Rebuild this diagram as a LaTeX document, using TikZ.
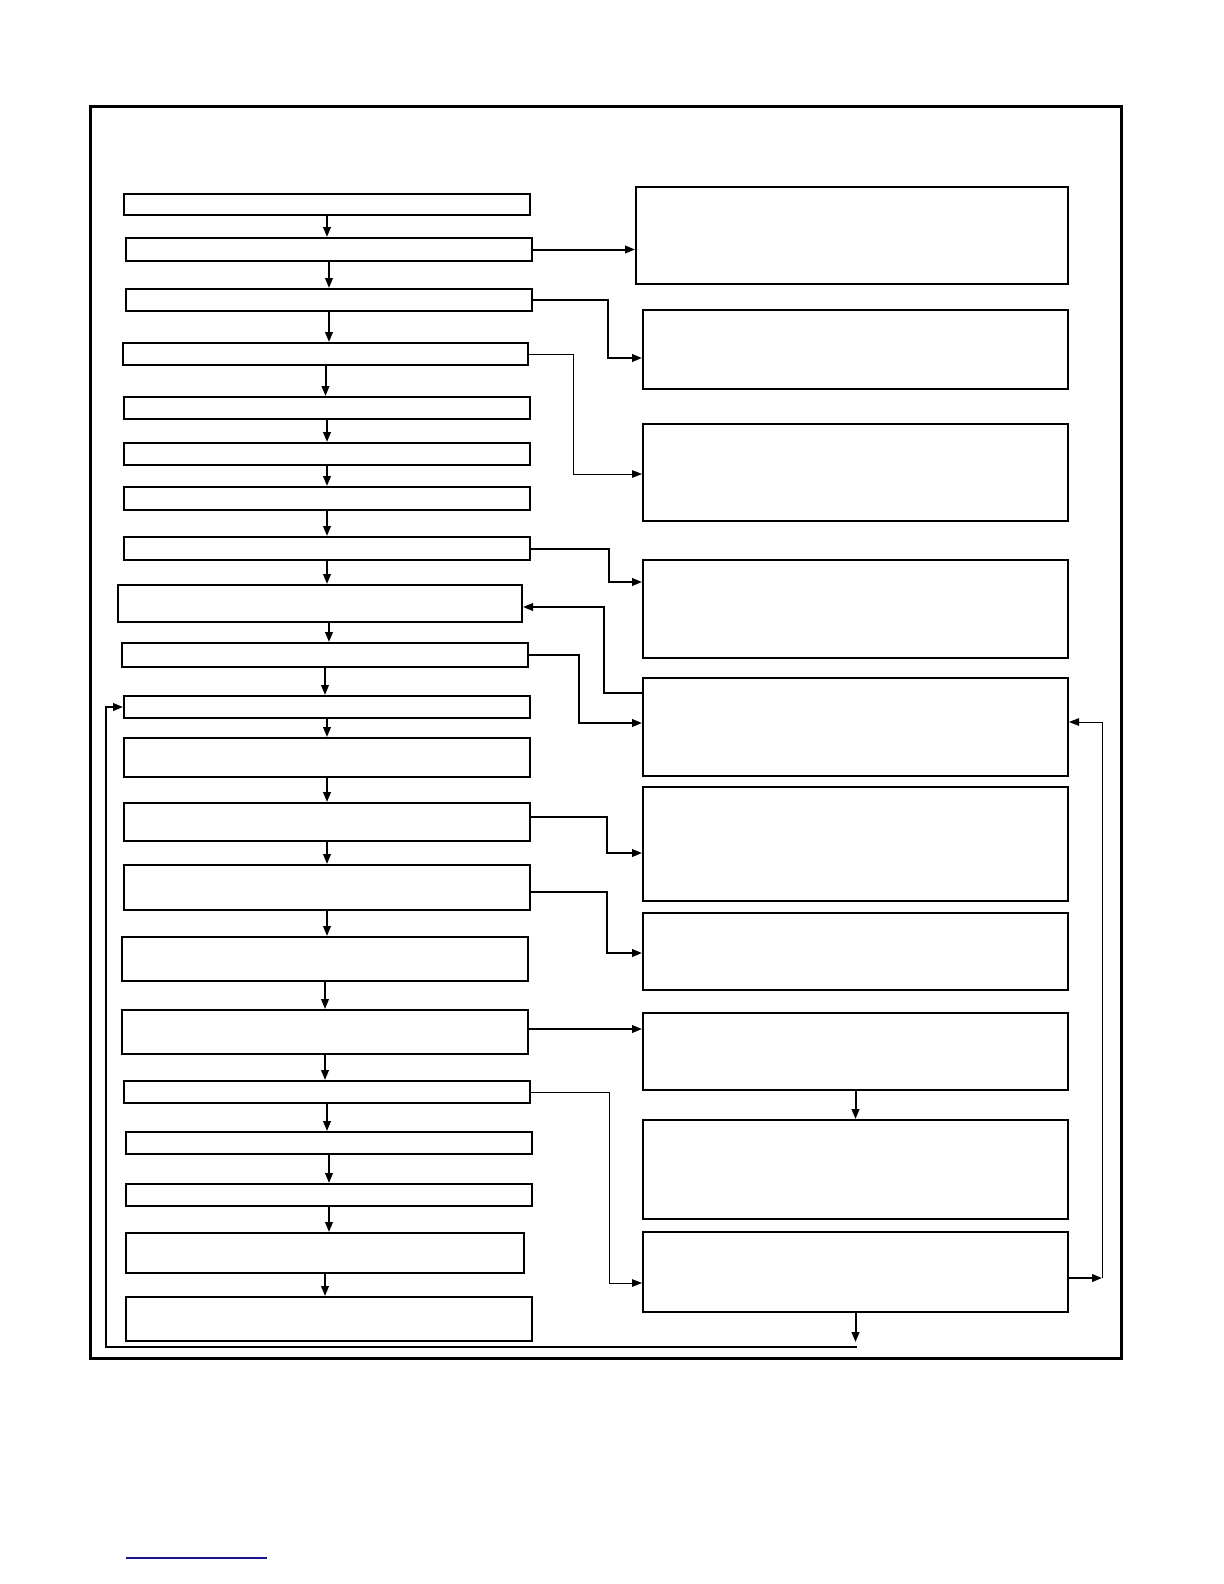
\documentclass[tikz,border=0pt]{standalone}
\usetikzlibrary{arrows.meta}
\begin{document}
\begin{tikzpicture}[x=0.5pt,y=-0.5pt,
  blk/.style 2 args={draw,line width=1pt,inner sep=0pt,minimum width=#1*0.5pt,minimum height=#2*0.5pt},
  arr/.style={line width=1pt,-{Triangle[length=5pt,width=3.8pt]}},
  thinline/.style={line width=0.5pt}]
\useasboundingbox (0,0) rectangle (1224,1584);
\draw [line width=1.5pt] (90,107) rectangle (1121,1358);
% left column
\node [blk={406}{21}] (L1)  at (327,204.5) {};
\node [blk={406}{23}] (L2)  at (329,249.5) {};
\node [blk={406}{22}] (L3)  at (329,300) {};
\node [blk={405}{22}] (L4)  at (325.5,354) {};
\node [blk={406}{22}] (L5)  at (327,408) {};
\node [blk={406}{22}] (L6)  at (327,454) {};
\node [blk={406}{23}] (L7)  at (327,498.5) {};
\node [blk={406}{23}] (L8)  at (327,548.5) {};
\node [blk={404}{37}] (L9)  at (320,603.5) {};
\node [blk={406}{24}] (L10) at (325,655) {};
\node [blk={406}{22}] (L11) at (327,707) {};
\node [blk={406}{39}] (L12) at (327,757.5) {};
\node [blk={406}{38}] (L13) at (327,822) {};
\node [blk={406}{45}] (L14) at (327,887.5) {};
\node [blk={406}{44}] (L15) at (325,959) {};
\node [blk={406}{44}] (L16) at (325,1032) {};
\node [blk={406}{22}] (L17) at (327,1092) {};
\node [blk={406}{22}] (L18) at (329,1143) {};
\node [blk={406}{22}] (L19) at (329,1195) {};
\node [blk={398}{40}] (L20) at (325,1253) {};
\node [blk={406}{44}] (L21) at (329,1319) {};
% right column
\node [blk={432}{97}]  (R1)  at (852,235.5) {};
\node [blk={425}{79}]  (R2)  at (855.5,349.5) {};
\node [blk={425}{97}]  (R3)  at (855.5,472.5) {};
\node [blk={425}{98}]  (R4)  at (855.5,609) {};
\node [blk={425}{98}]  (R5)  at (855.5,727) {};
\node [blk={425}{114}] (R6)  at (855.5,844) {};
\node [blk={425}{77}]  (R7)  at (855.5,951.5) {};
\node [blk={425}{77}]  (R8)  at (855.5,1051.5) {};
\node [blk={425}{99}]  (R9)  at (855.5,1169.5) {};
\node [blk={425}{80}]  (R10) at (855.5,1272) {};
\coordinate (rturn) at (1102,1278);
\coordinate (exit) at (855.5,1342);
% main chain
\foreach \a/\b in {L1/L2,L2/L3,L3/L4,L4/L5,L5/L6,L6/L7,L7/L8,L8/L9,L10/L11,
  L11/L12,L12/L13,L13/L14,L14/L15,L15/L16,L16/L17,L17/L18,L18/L19,L19/L20,L20/L21}
  \draw [arr] (\a.south) -- (\a.south |- \b.north);
\draw [arr] ([xshift=4.5pt]L9.south) -- ([xshift=4.5pt]L9.south |- L10.north);
% branches
\draw [arr] (L2.east) -- (L2.east -| R1.west);
\draw [arr] (L3.east) -| (608,358) -- (R2.west |- 0,358);
\draw [arr,thinline] (L4.east) -| (573,474) -- (R3.west |- 0,474);
\draw [arr] (L8.east) -| (609,582) -- (R4.west |- 0,582);
\draw [arr] (R5.west |- 0,693) -| (604,607) -- (L9.east |- 0,607);
\draw [arr] (L10.east) -| (579,723) -- (R5.west |- 0,723);
\draw [arr] (L13.east |- 0,817) -| (607,853) -- (R6.west |- 0,853);
\draw [arr] (L14.east |- 0,892) -| (607,953) -- (R7.west |- 0,953);
\draw [arr] (L16.east |- 0,1029) -- (R8.west |- 0,1029);
\draw [arr,thinline] (L17.east) -| (609,1283) -- (R10.west |- 0,1283);
\draw [arr] (R8.south) -- (R9.north);
\draw [arr] (R10.east |- rturn) -- (rturn);
\draw [arr,thinline] (rturn) -- (1102,722) -- (R5.east |- 0,722);
\draw [arr] (R10.south) -- (exit);
\draw [arr] (857,1347) -| (106,707) -- (L11.west);
\draw [color={rgb,255:red,20;green,20;blue,140},line width=0.6pt] (126,1558) -- (267,1558);
\end{tikzpicture}
\end{document}
